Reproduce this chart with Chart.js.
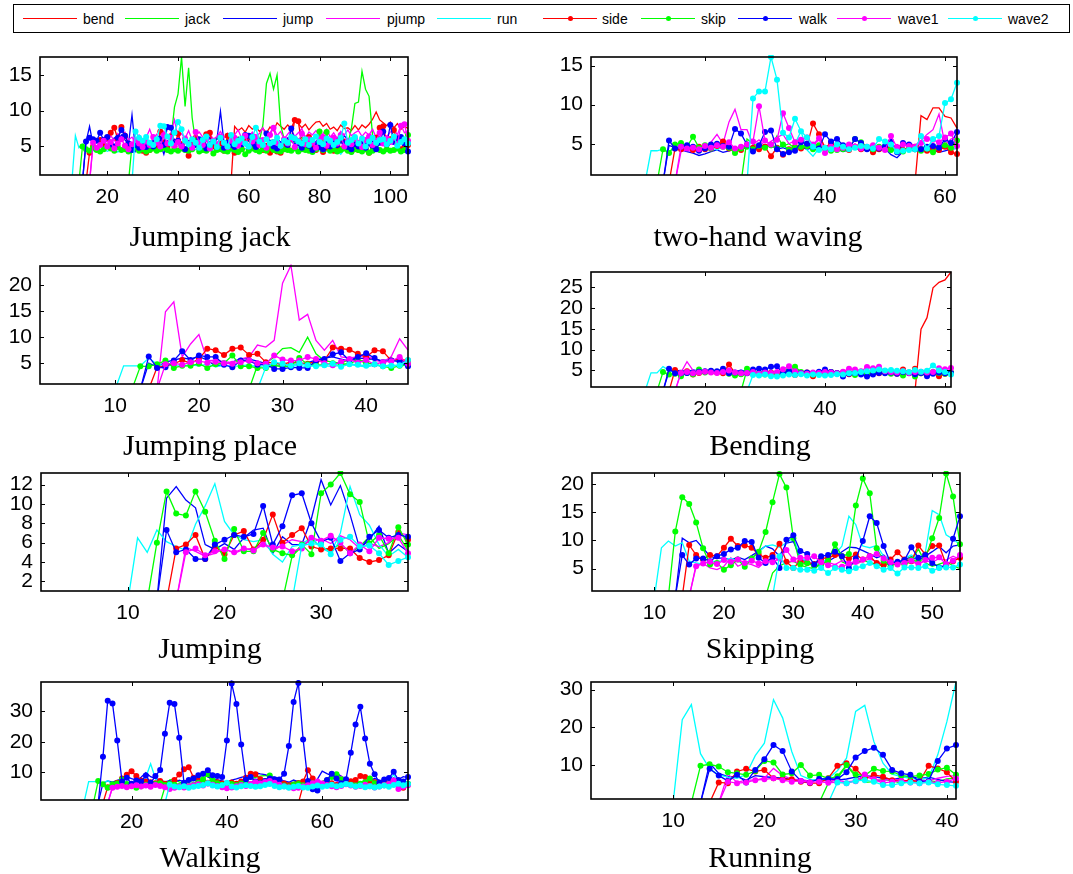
<!DOCTYPE html>
<html>
<head>
<meta charset="utf-8">
<script src="https://cdn.jsdelivr.net/npm/chart.js@4.4.0/dist/chart.umd.min.js"></script>
<style>
  body { margin: 0; width: 1073px; height: 874px; background: #fff; position: relative; overflow: hidden; }
  canvas { position: absolute; }
  .title { position: absolute; font-family: "Liberation Serif", serif; font-size: 30px; line-height: 30px; white-space: nowrap; transform: translateX(-50%); color: #000; }
  #legendBox { position: absolute; left: 13px; top: 4px; width: 1057px; height: 29px; border: 1.5px solid #000; box-sizing: border-box; }
  .lgLine { position: absolute; height: 1.3px; }
  .lgDot { position: absolute; width: 5px; height: 5px; border-radius: 50%; }
  .lgText { position: absolute; font-family: "Liberation Sans", Arial, sans-serif; font-size: 14px; line-height: 16px; color: #000; white-space: nowrap; }
</style>
</head>
<body>
<div id="legendBox"></div>
<script>
// series, in plotting order
const names = ['bend', 'jack', 'jump', 'pjump', 'run', 'side', 'skip', 'walk', 'wave1', 'wave2'];
// first frame index where each model output appears
const startIdx = [56, 27, 14, 16, 11, 15, 13, 14, 16, 28];

const panelTitles = ['Jumping jack', 'two-hand waving', 'Jumping place', 'Bending', 'Jumping', 'Skipping', 'Walking', 'Running'];
const panelLengths = [105, 62, 45, 61, 39, 54, 78, 41];
const panelYMax = [17.5, 16.1, 23.7, 28.7, 13.2, 22, 39.5, 32];
const panelXTicks = [[20, 40, 60, 80, 100], [20, 40, 60], [10, 20, 30, 40], [20, 40, 60], [10, 20, 30], [10, 20, 30, 40, 50], [20, 40, 60], [10, 20, 30, 40]];
const panelYTicks = [[5, 10, 15], [5, 10, 15], [5, 10, 15, 20], [5, 10, 15, 20, 25], [2, 4, 6, 8, 10, 12], [5, 10, 15, 20], [10, 20, 30], [10, 20, 30]];

// values per series, from its start index to the end of the clip
const jumpingJack = [
  [7.8,7.2,7.6,7.0,7.9, 7.4,7.8,7.1,7.5,6.9,7.7,7.2,8.3,7.8,7.4, 8.0,7.5,8.7,8.2,7.6,8.1,7.3,7.9,8.4,8.5,
   7.8,8.2,7.4,7.7,7.2,8.0,7.5,7.6,7.2,7.9, 7.3,8.0,7.6,8.1,8.8,9.8,8.7,8.3,7.9,8.4, 7.6,8.2,7.4,7.8,7.5],
  [5.2,5.8,5.4,6.0, 5.6,5.1,5.9,5.4,6.2,5.7,5.3,6.0,10.5,12.3, 17.5,10.6,16.0,9.0,5.5,6.1,5.4,5.9,5.2,5.8,
   6.2,5.6,5.1,6.0,5.5,5.8,6.3,5.4,6.0,5.7, 5.3,6.1,5.8,8.0,13.8,15.2,13.0,15.0,8.0,6.0, 5.6,6.2,5.4,5.9,6.3,5.5,6.0,5.7,5.2,6.1,
   5.8,5.4,6.0,5.6,6.2,5.5,5.9,5.3,7.5,11.0, 11.2,15.5,13.0,12.0,6.5,5.7,6.1,5.4,5.9,6.3, 5.6,6.0,5.5,6.2,5.8],
  [5.6,7.8,5.2,5.8,6.1,5.5,6.0, 5.4,6.2,5.8,6.6,5.9,5.3,9.4,4.4,5.6,5.0, 5.7,5.2,5.9,4.7,5.4,3.9,5.8,5.3,6.0,5.5,
   5.0,5.7,5.2,6.1,5.5,4.9,5.6,5.1,6.3,5.4, 6.0,9.9,5.5,5.0,5.8,5.3,6.2,5.6,5.1,5.9, 6.7,5.4,6.0,5.5,6.4,5.8,5.2,6.1,5.6,5.0,
   6.2,5.7,5.3,6.0,5.5,6.4,5.8,5.1,5.7,6.2, 5.4,6.0,5.6,5.2,6.1,5.5,6.5,5.9,5.3,6.0, 5.6,6.2,5.4,6.0,5.7,5.2,6.3,5.8,5.5,6.1,
   5.7,6.4,5.8,5.2,5.6],
  [5.2,5.9,5.4,6.2,5.6, 6.5,5.8,6.8,6.1,7.0,5.9,6.3,5.6,6.6,5.9, 6.2,7.4,6.0,6.7,5.8,7.1,6.4,6.9,8.7,6.2,
   6.8,6.1,7.2,5.9,6.5,7.0,6.3,5.8,6.7,6.0, 6.4,7.1,6.2,6.8,5.9,6.6,7.3,6.1,6.7,6.3, 7.0,6.4,6.8,7.6,6.2,6.9,7.7,6.5,7.1,6.0,
   6.7,7.3,6.4,6.9,7.5,6.2,7.0,6.6,7.2,6.4, 6.8,7.4,6.3,6.9,6.1,7.1,6.6,7.3,6.5,6.9, 7.2,6.4,7.0,6.6,7.4,6.2,7.1,6.8,6.4,7.0,
   7.5,6.6,8.0,6.9,7.2],
  [6.5,4.8,5.3,4.6,4.5,4.4,4.9,4.3,4.6,4.3, 4.5,4.7,4.2,4.6,4.4,4.9,4.5,4.7,4.3,4.6, 4.4,4.8,4.5,4.2,4.6,4.9,4.4,4.6,4.3,4.7,
   4.5,4.4,4.8,4.3,4.6,4.5,4.9,4.4,4.6,4.3, 4.7,4.5,4.4,4.8,4.3,4.6,4.5,4.4,4.7,4.3, 4.6,4.8,4.4,4.5,4.3,4.7,4.6,4.4,4.8,4.5,
   4.3,4.6,4.5,4.9,4.4,4.6,4.3,4.5,4.7,4.4, 4.6,4.3,4.5,4.8,4.4,3.9,4.6,4.5,4.3,4.7, 4.4,4.6,4.5,4.3,4.8,4.4,4.6,4.5,4.3,4.7,
   4.5,4.4,4.6,4.3,4.5],
  [4.1,5.0,4.7,5.9,5.2,6.2, 6.9,7.6,6.0,7.7,6.5,5.3,4.9,5.4,4.6,4.4, 4.1,4.5,5.2,4.8,7.1,5.5,4.9,6.4,5.0,6.8,
   5.3,4.6,3.7,5.2,6.2,4.8,5.5,6.7,6.9,5.0, 4.7,5.4,4.4,6.5,4.9,4.1,5.3,4.6,5.8,6.4, 5.0,4.7,5.5,4.5,5.1,4.1,5.6,4.3,4.1,5.2,
   4.7,6.0,8.7,8.5,5.2,4.6,6.3,5.0,4.5,5.4, 4.2,4.8,5.3,4.4,5.0,4.6,5.7,4.9,4.3,5.1, 4.5,5.2,4.6,4.1,5.0,6.2,7.6,7.8,5.3,6.0,
   7.3,5.5,4.6,4.9,5.2],
  [5.0,4.6,4.4,4.8,4.5,4.3,4.6,5.0, 4.7,4.4,4.9,4.5,4.6,4.3,4.5,4.8,4.4,4.6, 4.3,4.5,4.7,4.4,4.6,4.8,4.5,4.3,4.6,4.4,
   4.7,4.5,4.4,4.6,5.8,4.3,4.5,4.4,4.7,4.0, 4.5,4.6,4.4,4.3,4.7,4.5,4.2,4.6,3.9,4.4, 4.7,4.5,4.3,4.6,4.4,4.8,4.5,4.4,4.3,4.6,
   4.5,4.4,4.7,4.3,4.6,4.5,4.4,4.2,4.6,7.1, 4.5,7.0,4.4,4.6,4.3,4.5,4.7,4.4,4.2,4.6, 4.5,4.3,4.6,4.1,4.4,4.7,4.5,4.3,4.6,4.4,
   4.5,4.7,4.3,4.5,6.6],
  [5.7,6.2,6.0,5.8,6.9,5.9,6.3, 5.3,5.0,6.2,7.3,6.5,5.4,4.5,5.2,4.8,5.5, 4.9,5.3,5.0,5.6,6.1,5.2,7.7,7.6,5.4,5.8,
   5.1,4.6,5.5,4.9,5.2,6.0,5.4,4.7,5.3,5.6, 5.0,6.3,4.8,5.5,5.2,4.9,5.7,5.3,6.6,6.5, 5.4,4.9,5.8,5.2,6.8,5.5,5.0,4.7,5.3,5.9,
   5.2,7.5,6.0,5.4,4.8,5.6,5.1,4.5,5.3,4.9, 4.6,5.4,5.0,5.8,5.2,6.2,5.5,4.9,4.6,5.3, 5.0,5.7,4.8,5.4,5.1,4.6,5.5,7.1,5.3,8.0,
   5.6,6.1,6.3,5.4,4.3],
  [5.5,4.8,5.2,5.8,5.0, 5.6,4.7,5.4,6.0,5.1,4.6,5.3,5.9,5.4,4.9, 5.7,5.2,6.3,5.5,5.0,6.6,5.4,6.2,5.1,5.6,
   5.0,6.1,5.4,4.8,7.0,5.5,5.2,6.0,4.7,5.8, 5.3,6.4,5.5,4.9,5.8,6.2,5.1,5.6,6.5,5.0, 5.7,6.3,5.2,5.9,4.8,6.6,7.6,5.5,5.1,6.0,
   5.4,6.1,4.9,5.7,6.8,5.3,6.0,5.5,4.8,5.9, 6.3,5.1,5.6,6.2,5.4,6.6,5.0,5.8,5.3,6.1, 5.5,4.9,5.9,6.4,5.2,5.8,6.9,5.4,6.1,5.6,
   6.2,5.3,7.9,8.1,5.8],
  [7.1,6.2,5.8, 6.3,5.5,5.2,6.0,7.9,7.8,6.4,5.4,6.9,8.4, 7.4,5.8,5.3,6.0,5.5,4.8,5.9,6.4,5.2,5.7,
   4.9,6.2,5.5,5.0,6.6,5.3,5.8,6.1,5.4,5.0, 6.3,7.6,5.7,5.2,6.0,5.4,5.6,6.2,5.1,5.8, 5.5,6.3,6.1,5.7,5.4,6.0,5.2,5.9,6.4,5.6,
   5.3,6.1,5.8,5.2,5.6,6.2,8.2,5.5,5.9,6.3, 5.4,6.1,5.0,5.7,6.2,5.5,5.9,6.0,5.3,5.8, 6.4,5.1,5.6,6.0,5.4]
];

const twoHandWaving = [
  [8.6,8.1,9.6,9.6,8.5,8.3,7.0],
  [5.6,5.0,4.6,4.9, 4.5,6.0,4.7,5.0,4.4,4.8,4.6,5.1,4.7,4.4, 4.3,4.6,4.5,4.8,4.4,5.3,4.6,4.5,4.7,4.4,
   4.3,4.6,4.5,4.2,4.7,4.4,4.8,4.1,4.6,4.5, 4.9,5.2],
  [4.8,4.5,4.2,4.0,3.8,3.5,3.7, 4.0,4.2,3.9,4.1,4.3,4.2,4.6,4.4,4.7,4.5, 4.8,4.3,4.5,4.2,4.4,4.6,4.3,4.5,4.2,4.4,
   4.1,4.3,4.0,4.2,4.5,4.1,4.3,4.0,4.2,4.4, 3.6,3.2,4.0,4.3,4.1,4.2,4.0,4.2,3.9,4.1, 4.3,4.4],
  [4.0,4.2,3.9,4.4,4.6, 5.2,6.2,5.0,7.8,9.4,6.8,6.8,4.9,5.5,4.7, 5.3,5.8,6.2,5.0,5.4,5.6,5.1,4.8,5.5,4.6,
   4.9,4.4,4.7,4.5,5.0,4.3,4.6,4.8,4.4,4.7, 4.5,4.9,4.6,5.1,4.8,5.4,6.2,6.8,8.8,4.9, 5.6,5.9],
  [4.1,4.1,4.3,4.0,4.4,4.5,4.2,4.6,4.3,4.8, 4.5,4.2,4.7,4.4,4.1,4.5,4.8,4.3,4.6,4.4, 4.9,4.5,4.7,4.3,5.0,6.6,4.2,3.4,4.4,4.1,
   4.6,4.3,4.5,4.2,4.7,4.4,4.1,4.5,4.3,4.6, 4.2,4.5,4.0,4.4,4.3,4.7,4.5,4.2,4.4,4.6, 4.3,4.5],
  [4.4,4.3,4.5,4.2,4.6,4.3, 4.4,4.7,5.3,4.4,4.3,4.2,4.8,4.5,4.3,4.6, 3.4,4.5,3.6,4.3,4.6,4.4,4.7,7.6,6.2,4.5,
   5.1,4.6,4.4,4.2,4.6,4.3,4.5,3.9,4.3,4.5, 4.4,4.5,4.2,4.4,4.6,4.3,4.1,4.5,4.2,4.6, 3.9,3.7],
  [4.3,3.8,4.9,5.1,4.6,5.9,4.5,4.8, 4.4,4.9,4.6,4.5,3.8,4.4,4.6,4.3,4.7,4.5, 4.8,4.4,4.9,4.2,4.5,4.6,4.7,4.3,4.8,4.4,
   4.1,4.2,4.3,4.5,5.6,5.2,4.4,4.3,4.6,4.5, 4.2,4.4,4.0,4.5,4.3,4.1,4.4,3.9,4.6,4.8, 4.5,5.4],
  [5.4,4.4,4.6,4.8,4.6,4.1,4.4, 4.9,5.0,4.7,4.6,6.9,6.3,4.9,4.0,4.8,6.5, 6.7,4.3,3.7,3.9,4.1,5.2,5.0,4.6,4.4,6.2,
   5.3,5.6,4.8,4.4,5.6,5.1,4.3,4.5,4.4,4.7, 5.3,3.9,5.1,4.9,4.3,4.3,4.6,4.7,4.5,5.6, 5.1,6.5],
  [4.6,4.4,4.5,4.3,4.7, 4.5,4.8,4.6,5.2,4.4,4.6,4.9,5.3,9.8,5.4, 4.9,5.5,8.9,7.0,5.2,5.5,5.8,4.9,5.7,3.8,
   4.6,4.3,4.5,4.9,4.6,4.4,4.6,4.8,4.5,4.2, 6.0,4.5,4.9,4.7,4.6,5.1,5.6,5.5,5.2,5.8, 6.3,4.7],
  [10.8,11.7,11.7, 16.1,13.2,6.4,5.8,8.2,6.6,5.8,4.6,4.2,4.5, 4.3,4.9,4.6,4.3,4.5,4.7,4.6,4.4,5.6,5.3,
   4.9,4.0,4.1,4.2,4.3,6.0,4.4,5.6,6.0,10.2, 10.7,12.8]
];

const jumpingPlace = [
  [],
  [4.6,5.0,6.2,7.8,8.0,7.1,10.0,6.8,5.5,5.2,5.0,5.8,5.4,5.6,5.9,5.2,5.5,5.7,5.3],
  [5.0,4.3,5.2,5.6,6.0,5.8,6.3,5.6,4.4,4.8,5.2,5.9,5.8,5.4,4.9,4.6,4.5,4.7,4.8,5.1,5.6,6.0,6.2,5.8,5.4,5.9,6.0,5.7,5.5,5.8,5.6,5.2],
  [14.9,16.8,6.2,8.7,10.5,5.5,5.6,5.3,5.1,5.8,6.2,8.5,8.1,9.4,20.4,23.8,13.3,14.4,9.4,7.5,9.4,6.2,6.0,6.2,6.5,5.6,5.2,6.3,9.7,7.5],
  [4.5,4.5,4.5,6.0,4.8,4.5,4.6,4.4,4.7,4.5,4.8,4.3,4.6,4.4,4.5,4.7,4.3,4.6,4.5,4.8,4.4,4.6,4.3,4.7,4.5,4.4,4.6,4.8,4.5,4.3,4.6,4.4,4.7,4.5,4.6],
  [4.2,4.5,4.9,5.6,5.0,5.8,7.8,7.5,6.6,7.8,8.0,6.6,6.8,5.2,5.0,4.8,5.2,5.0,4.9,5.3,5.5,8.0,7.8,7.6,6.8,6.2,7.5,7.3,5.5,5.8,5.5],
  [4.4,4.4,4.8,5.5,4.1,4.5,4.5,4.9,4.1,4.8,5.0,6.5,4.4,4.4,4.1,4.1,4.6,4.3,4.5,6.0,4.8,4.6,4.7,5.0,4.8,4.9,5.6,5.0,4.8,4.4,4.1,4.5,4.8],
  [6.3,4.1,4.2,5.5,7.3,5.6,6.5,6.2,6.2,4.7,4.2,5.5,5.5,4.7,4.8,3.9,3.9,4.2,4.1,4.1,5.5,5.8,6.7,7.1,5.5,6.2,6.9,6.0,5.2,5.5,5.3,4.4],
  [4.8,5.0,4.7,5.2,5.4,5.1,5.3,5.0,4.9,5.2,5.5,5.0,4.9,6.5,5.7,5.5,5.5,6.2,5.8,5.0,4.6,5.3,5.8,5.1,5.6,4.8,5.2,5.4,6.2,4.9],
  [4.2,5.2,4.9,4.5,5.0,4.6,4.4,4.6,4.9,4.3,4.8,4.7,4.5,4.8,4.4,4.5,4.6,5.6]
];

const bending = [
  [14.9,17.7,24.9,26.2,26.8,28.7],
  [5.2,4.4,4.3,4.5, 4.4,4.6,4.5,4.3,4.7,4.4,4.2,4.5,4.6,4.3, 4.5,4.4,4.6,4.3,4.5,4.7,4.4,4.6,4.5,4.3,
   4.6,4.4,4.5,4.3,4.2,4.6,4.4,4.5,4.3,4.6, 4.4],
  [4.8,4.9,5.0,4.7,5.1,4.9,4.8, 5.0,4.8,5.1,4.9,4.8,5.0,4.7,4.6,4.5,4.7, 4.6,4.5,4.4,4.6,4.5,4.3,4.5,4.6,4.4,4.5,
   4.3,4.5,4.4,4.6,4.3,4.5,4.4,4.7,4.5,4.6, 4.4,4.5,4.3,4.6,4.4,4.5,4.2,4.4,4.3,4.5, 4.4],
  [4.5,7.1,5.0,4.8,4.6, 4.7,4.8,4.6,5.2,4.9,4.7,4.5,4.3,4.6,4.4, 4.7,4.5,4.8,5.0,4.6,4.4,4.3,4.5,4.4,4.6,
   4.5,4.7,4.4,4.6,4.5,4.8,4.6,4.7,4.5,4.6, 4.8,4.5,4.7,4.4,4.6,4.5,4.7,4.6,4.8,4.5, 4.6],
  [4.4,4.4,5.9,5.0,4.6,4.5,4.8,4.6,4.9,4.7, 4.8,4.5,4.9,4.7,4.6,4.8,4.5,4.4,4.3,4.6, 4.5,4.3,4.7,4.4,4.6,4.2,4.5,4.4,4.6,4.3,
   4.5,4.7,4.4,4.6,4.3,4.5,4.8,4.4,4.6,4.5, 4.3,4.6,4.4,4.7,4.5,4.3,4.6,4.8,4.4,4.5, 4.4],
  [5.1,4.3,4.8,4.0,4.4,4.7, 4.6,4.5,4.3,6.4,4.4,4.2,4.4,4.6,4.1,4.3, 4.5,4.2,4.4,4.6,3.9,4.3,4.5,3.6,4.2,4.4,
   4.6,4.3,4.5,4.1,4.4,4.6,4.2,4.5,4.3,4.7, 4.4,4.2,5.2,4.5,5.4,4.3,4.6,4.4,3.6,4.2, 4.4],
  [4.6,4.0,4.2,3.6,4.4,4.1,5.2,4.5, 4.8,4.6,4.9,4.2,3.8,4.1,5.4,4.6,4.3,4.0, 4.2,4.4,4.8,5.1,5.9,4.6,4.2,4.0,4.3,4.1,
   4.6,4.3,4.0,4.5,3.9,4.7,4.2,4.4,4.8,4.5, 4.2,4.6,3.8,4.4,3.5,4.3,4.1,4.6,4.4,4.2, 4.5],
  [5.4,4.3,4.3,4.4,4.4,4.7,4.8, 4.9,4.8,5.4,4.3,4.5,4.5,4.3,5.2,5.4,5.2, 5.9,6.0,4.3,4.8,4.6,4.4,4.5,4.3,4.7,5.2,
   4.6,4.4,3.5,4.2,4.4,4.0,3.5,4.0,4.4,4.3, 4.5,4.2,4.6,4.3,4.1,4.4,3.6,4.2,4.5,4.3, 4.4],
  [4.4,4.6,4.3,4.5,4.7, 4.5,4.4,4.6,5.0,4.5,4.3,4.4,4.6,4.2,4.5, 4.4,4.6,5.3,6.0,4.8,4.3,4.2,4.5,4.4,4.6,
   4.5,4.3,4.7,5.4,5.2,4.8,5.8,5.5,5.9,4.8, 4.6,4.5,4.8,4.4,4.6,4.7,4.5,4.6,5.5,5.3, 5.6],
  [3.9,3.8,4.0, 3.6,3.5,3.8,4.0,3.9,4.1,3.8,4.0,3.9,3.8, 3.9,4.1,4.0,4.3,4.4,4.6,4.8,5.0,5.2,5.0,
   5.1,4.9,4.8,4.6,5.1,4.7,4.9,6.2,5.0,4.6, 4.0]
];

const jumping = [
  [],
  [4.6,5.6,6.4,5.5,5.2,5.9,4.9,5.6,6.6,5.4,5.9,6.8,5.2],
  [10.6,11.8,10.4,9.6,5.8,5.3,5.9,5.3,6.5,7.3,7.5,4.9,6.6,5.8,5.8,8.5,12.5,9.9,11.9,8.9,5.4,6.3,7.7,4.9,5.8,5.1],
  [5.5,5.1,4.6,4.9,5.4,4.9,5.3,5.4,5.9,5.1,5.8,6.3,6.1,6.0,6.4,5.9,6.7,6.3,5.4,5.9,5.6,6.0,7.0,6.8],
  [6.5,5.0,7.3,6.1,5.6,5.2,7.9,9.8,12.1,8.2,6.8,6.3,6.1,6.3,4.8,4.0,5.6,5.8,6.6,5.4,5.0,7.0,11.8,8.9,7.8,5.8,4.6,5.3,4.5],
  [5.4,5.8,6.8,4.3,5.6,4.8,6.8,7.2,5.3,6.3,8.9,6.0,6.8,7.5,5.6,5.3,5.4,5.4,5.4,4.4,4.0,4.2,4.7,7.1,6.3],
  [6.0,11.3,9.0,8.8,11.3,9.2,6.2,4.3,7.4,5.1,5.1,7.0,5.3,4.9,4.7,5.8,4.8,11.1,12.0,13.2,11.0,10.2,5.9,6.8,4.9,7.6,5.8],
  [7.3,5.0,5.3,4.3,4.3,5.8,6.3,6.8,6.6,6.9,9.8,5.8,7.7,10.9,11.1,8.0,6.1,6.5,4.1,4.9,5.3,6.6,7.3,6.5,6.8,6.6],
  [5.0,5.4,4.7,5.1,5.3,5.0,5.4,5.2,5.8,5.5,5.6,5.1,5.4,6.5,6.2,6.7,6.0,4.9,5.8,5.1,6.5,6.4,6.5,4.9],
  [5.7,5.9,5.8,4.8,6.3,6.6,5.6,5.7,4.9,3.7,4.1,4.5]
];

const skipping = [
  [],
  [4.2,5.5,6.0,6.3,5.6,5.2,5.0,5.8,6.4,9.0,6.2,5.6,6.0,6.5,6.1,5.7,5.5,6.0,6.3,5.7,6.2,8.5,6.0,5.4,5.8,6.2,5.5,5.0],
  [10.4,9.6,10.0,8.6,7.2,6.8,6.9,6.5,7.0,6.6,7.3,8.1,9.0,8.5,7.2,9.5,9.8,6.9,6.1,5.8,6.4,6.3,7.0,8.0,8.8,8.7,8.2,7.6,6.9,7.4,
   6.3,6.0,6.6,7.1,6.5,7.2,8.0,8.9,7.8,9.0,9.2],
  [5.7,5.9,5.1,4.8,5.4,6.9,5.4,6.0,5.7,5.2,6.3,6.9,6.6,6.0,6.4,5.8,6.2,5.9,6.5,6.1,5.7,6.4,6.0,5.8,6.3,6.7,6.2,5.9,6.4,6.0,
   6.6,6.2,5.8,6.4,6.1,6.8,6.5,7.2,6.6],
  [8.7,9.9,9.0,9.6,6.3,6.0,5.8,6.4,6.2,6.5,6.8,6.3,6.0,6.6,8.0,9.0,9.2,8.8,9.6,10.5,7.0,6.2,5.6,6.0,6.8,7.5,9.0,14.3,12.8,9.0,
   8.7,9.1,7.2,6.5,6.0,6.8,7.4,6.6,7.8,15.3,14.6,11.0,10.2,9.3],
  [9.2,7.4,6.6,7.4,7.2,8.7,10.3,9.0,9.1,8.7,7.5,6.9,7.4,9.4,6.2,5.1,6.3,6.0,5.8,6.8,6.9,7.4,7.2,6.8,7.5,6.6,7.2,6.0,5.6,6.6,
   7.9,6.6,6.3,9.1,7.5,9.0,9.1,5.7,6.3,6.9],
  [11.6,17.7,16.5,13.2,8.6,5.7,6.0,4.8,5.6,6.6,5.3,6.8,8.0,11.5,16.8,21.8,19.4,10.4,5.7,6.0,5.4,5.7,6.4,9.3,7.2,7.6,16.2,21.0,18.4,8.6,
   6.4,5.4,6.0,5.7,6.6,6.2,6.9,10.4,14.0,21.9,17.8,9.3],
  [7.4,5.7,6.8,6.8,6.3,7.2,7.6,8.4,8.7,9.9,9.7,6.9,6.0,7.0,5.1,10.1,10.9,8.1,7.6,5.7,7.2,7.4,8.0,7.2,5.1,6.8,9.9,14.3,13.1,9.0,
   6.0,6.2,6.5,8.8,6.9,7.4,6.0,5.2,5.6,10.3,14.3],
  [5.4,5.9,6.2,5.8,6.5,6.2,6.6,6.0,6.4,5.9,6.3,6.1,6.8,8.3,6.6,6.9,6.9,7.2,6.1,5.6,5.3,5.3,5.9,6.2,6.6,7.2,7.6,6.8,6.1,5.7,
   6.0,6.4,5.8,6.5,6.9,7.0,5.8,6.4,7.4],
  [7.2,5.1,5.1,4.8,4.8,4.6,5.1,4.2,5.1,4.8,4.5,5.1,5.4,6.0,5.4,4.8,5.1,4.1,5.2,5.2,5.1,5.4,4.6,5.1,5.2,5.2,5.7]
];

const walking = [
  [5.8,6.2,5.6,6.0,5.4,5.9,6.3,5.7,6.1,5.5,5.8,6.2,5.6,6.0,5.3,5.7,6.1,5.5,5.9,6.4,5.8,6.2,5.6],
  [5.2,7.6,7.8,6.9,6.3,6.8,7.5,8.2,9.2,8.6, 7.4,6.8,6.5,7.0,6.6,6.3,7.1,7.5,7.9,8.4, 8.8,9.0,8.6,7.8,7.2,6.7,6.4,6.8,7.3,7.0,
   6.5,6.2,6.6,7.1,7.8,8.5,9.0,8.2,7.4,6.9, 6.5,6.8,7.2,7.6,7.1,6.7,6.4,6.9,7.3,6.8, 6.5,6.9],
  [6.5,7.2,6.8,7.4,7.9,8.6,8.0,7.5,8.4,9.9, 8.6,8.0,7.6,6.9,7.3,6.8,7.5,7.0,7.8,8.2, 8.9,9.3,8.5,8.0,7.6,7.2,6.8,7.5,7.9,8.4,
   8.8,9.2,9.9,9.5,9.3,8.8,8.4,7.9,7.2,6.8, 7.5,6.9,6.4,5.8,5.5,7.8,10.4,9.6,8.9,9.8, 8.7,7.9,7.4,7.0,6.6,6.9,7.4,8.0,7.5,7.1,
   7.6,8.2,7.7,8.6,8.3],
  [5.3,5.6,5.2,5.8,6.0,5.5,5.9,6.3,5.7,6.1, 5.6,6.0,5.4,5.8,6.2,5.7,6.1,5.5,5.9,6.4, 6.8,6.2,5.8,6.3,6.7,6.1,5.7,6.0,6.5,6.9,
   7.3,6.7,6.2,5.8,6.4,6.0,5.6,5.9,6.3,5.8, 6.2,6.6,7.0,7.5,6.9,6.4,6.0,6.5,8.8,7.2, 6.6,6.1,6.5,6.9,6.4,6.0,6.3,6.7,7.1,7.6,
   7.0,6.6,6.2],
  [7.0,7.0,7.1,6.5,7.3,6.2,5.8,6.0,6.4,6.1, 6.6,7.2,8.4,12.8,8.0,6.4,6.0,5.6,5.9,6.2, 5.7,6.0,5.5,5.8,6.1,5.6,5.9,6.3,5.7,5.4,
   5.8,6.0,5.6,5.9,6.2,5.7,6.0,5.5,5.8,6.1, 5.6,5.9,5.4,5.7,6.0,5.5,5.8,6.2,5.7,5.5, 5.9,6.3,5.8,6.1,5.6,5.9,6.2,5.7,6.0,5.6,
   5.9,6.3,6.8,7.5,9.2,7.0,6.4,6.0],
  [5.2,5.5,6.6,8.0,9.2,10.4,8.8,7.4,7.0,6.8, 6.5,7.2,6.3,6.0,7.5,9.3,11.0,11.7,8.3,7.4, 7.0,6.6,7.2,6.8,6.4,6.0,6.7,6.3,7.0,8.3,
   9.6,9.4,7.8,7.0,6.5,6.1,6.8,6.4,5.8,6.0, 6.5,7.0,10.7,8.0,6.6,6.2,7.0,6.5,5.9,6.3, 6.8,7.1,7.5,8.8,8.5,7.2,6.8,6.3,6.9,6.5,
   7.0,6.4,5.0,6.1],
  [7.2,6.1,5.0,6.1,6.4,7.7,6.2,5.8,5.0,5.5, 6.0,5.7,6.2,6.5,5.9,6.3,6.0,5.6,5.3,5.6, 6.0,6.6,7.8,9.4,7.6,6.5,6.0,5.7,6.2,5.9,
   6.4,6.8,6.1,5.8,6.5,7.2,9.0,7.0,6.1,5.7, 5.4,5.9,6.2,5.8,6.0,6.5,6.2,5.8,7.4,8.5, 9.4,7.8,6.4,6.0,5.7,6.3,6.8,8.0,6.5,6.0,
   5.8,6.2,6.6,6.1,5.8,6.3],
  [15.1,33.4,32.5,20.4,7.0,8.3,6.3,7.4,7.0,9.0, 6.6,8.8,10.8,22.6,32.7,32.3,21.3,6.6,7.5,8.0, 9.1,9.6,10.7,9.1,8.8,8.5,20.4,39.0,32.3,19.1,
   7.7,8.5,7.0,6.5,7.2,8.0,7.8,7.7,9.6,18.6, 33.0,39.2,20.7,7.2,4.5,4.1,6.1,7.5,9.6,8.0, 6.5,7.8,16.4,25.6,31.4,21.1,12.8,9.4,6.6,7.7,
   8.2,10.2,7.5,7.0,8.5],
  [5.0,5.3,5.6,5.2,5.5,5.8,5.4,5.7,5.3,5.9, 5.6,5.2,4.6,5.0,5.4,5.1,5.5,5.8,6.1,5.7, 6.4,6.0,5.6,5.2,4.8,5.1,5.5,5.9,5.6,6.2,
   6.8,6.4,6.9,7.2,6.6,6.0,5.5,5.2,4.8,5.0, 5.4,5.8,6.5,7.0,6.4,5.9,5.5,5.2,5.6,6.1, 5.7,5.3,5.6,6.0,5.5,5.1,5.4,5.8,6.2,7.4,
   4.6,5.3,5.8],
  [6.0,5.4,5.2,5.5,5.0,5.3,5.6,5.9,6.5,5.7, 5.4,5.8,6.6,5.4,5.1,5.5,5.8,5.6,5.3,5.5, 5.9,6.2,5.6,5.2,5.4,5.0,5.3,5.6,5.1,5.0,
   5.4,5.7,5.3,5.6,6.0,5.5,5.8,6.2,5.9,5.4, 5.7,5.2,5.5,5.1,5.4,5.7,5.3,5.9,6.3,5.8, 6.2]
];

const running = [
  [],
  [5.2,6.5,9.8,7.0,5.4,5.6,6.2,5.8,5.2,5.6,6.0,5.8,5.6,6.3,6.6],
  [10.5,7.8,6.9,6.9,6.0,7.2,6.9,6.7,6.5,6.2,6.0,5.8,6.2,6.4,6.0,6.3,6.8,7.2,6.9,6.5,6.2,6.6,7.0,6.4,6.8,6.2,5.6,5.4],
  [7.6,5.4,6.0,6.0,6.5,9.1,7.2,6.3,6.0,5.8,6.1,5.7,6.0,5.5,5.8,6.9,6.2,5.9,6.3,6.0,5.7,6.1,5.8,6.5,7.0,7.2],
  [22.0,26.0,13.0,9.0,7.4,6.8,6.5,7.5,12.5,15.8,27.3,22.5,13.6,7.2,6.2,6.0,6.4,8.5,11.8,24.2,25.8,16.2,10.5,7.6,6.9,6.5,6.2,6.6,12.7,21.5,32.0],
  [5.4,5.2,8.3,9.0,8.3,8.7,6.5,6.3,6.2,5.6,5.2,5.2,6.5,9.8,10.5,9.0,6.5,7.4,6.9,6.0,5.8,5.9,5.6,9.8,9.1,8.1,5.6],
  [9.8,10.2,9.6,8.1,7.8,7.4,8.4,11.1,10.7,7.5,7.8,10.0,7.2,7.4,6.4,7.0,10.0,7.5,7.2,9.0,8.4,8.3,7.2,7.0,7.2,7.6,8.8,9.3,7.4],
  [9.0,7.2,5.8,7.4,5.4,8.7,11.5,15.3,13.7,8.3,5.8,5.4,6.3,6.3,6.3,8.1,12.0,13.7,14.6,12.7,8.7,7.8,7.4,5.6,5.8,11.1,14.4,15.3],
  [5.6,5.2,5.4,6.0,6.2,6.5,6.0,5.6,5.8,5.4,5.6,5.3,5.5,5.2,5.7,7.5,6.2,5.2,5.6,5.8,5.4,5.2,5.5,5.3,5.6,6.4],
  [5.4,5.2,5.8,6.0,5.6,4.7,4.7,5.2,5.4,5.2,5.4,4.9,4.7,4.5]
];

const panelData = [jumpingJack, twoHandWaving, jumpingPlace, bending, jumping, skipping, walking, running];

// styling and layout
const colors = ['#ff0000', '#00ff00', '#0000ff', '#ff00ff', '#00ffff', '#ff0000', '#00ff00', '#0000ff', '#ff00ff', '#00ffff'];
const hasMarker = [false, false, false, false, false, true, true, true, true, true];
// axis box of each panel: left, top, right, bottom
const panelBoxes = [
  [40, 57, 408, 175], [591, 57, 957, 175],
  [40, 266, 408, 384], [591, 272, 951, 387],
  [41, 473, 408, 591], [592, 473, 960, 591],
  [41, 682, 408, 800], [591, 682, 956, 799]
];
const titleCenters = [210, 758, 210, 760, 210, 760, 210, 760];
const titleBaselines = [246, 246, 455, 455, 658, 658, 867, 867];
const legendLineX = [23, 125, 223, 326, 437, 543, 641, 738, 837, 948];
const legendTextX = [83, 185, 283, 387, 497, 602, 701, 799, 898, 1008];

const tickFont = { family: '"Liberation Sans", Arial, sans-serif', size: 21 };
const padL = 60, padT = 12, padR = 30, padB = 45;

const boxPlugin = {
    id: 'axisBox',
    afterDatasetsDraw(chart) {
        const { ctx, chartArea: a, scales } = chart;
        ctx.save();
        ctx.strokeStyle = '#000';
        ctx.lineWidth = 1;
        ctx.beginPath();
        scales.x.ticks.forEach(t => {
            const px = Math.round(scales.x.getPixelForValue(t.value)) + 0.5;
            ctx.moveTo(px, a.bottom); ctx.lineTo(px, a.bottom - 4);
            ctx.moveTo(px, a.top); ctx.lineTo(px, a.top + 4);
        });
        scales.y.ticks.forEach(t => {
            const py = Math.round(scales.y.getPixelForValue(t.value)) + 0.5;
            ctx.moveTo(a.left, py); ctx.lineTo(a.left + 4, py);
            ctx.moveTo(a.right, py); ctx.lineTo(a.right - 4, py);
        });
        ctx.stroke();
        ctx.lineWidth = 1.6;
        ctx.strokeRect(a.left, a.top, a.right - a.left, a.bottom - a.top);
        ctx.restore();
    }
};

function buildDatasets(vals, n) {
    return names.map((name, i) => {
        const pts = [];
        for (let x = 1; x <= n; x++) {
            const k = x - startIdx[i];
            const v = k < 0 ? 0 : vals[i][k];
            if (v !== undefined) pts.push({ x: x, y: v });
        }
        return {
            label: name,
            data: pts,
            borderColor: colors[i],
            backgroundColor: colors[i],
            borderWidth: 1.3,
            pointRadius: hasMarker[i] ? 3 : 0,
            pointBorderWidth: 0,
            pointBackgroundColor: colors[i],
            tension: 0,
            clip: { left: 0, top: 2, right: 4, bottom: 0 },
            order: names.length - i
        };
    });
}

function renderPanel(p) {
    const [L, T, R, B] = panelBoxes[p];
    const canvas = document.createElement('canvas');
    canvas.width = R - L + padL + padR;
    canvas.height = B - T + padT + padB;
    canvas.style.left = (L - padL) + 'px';
    canvas.style.top = (T - padT) + 'px';
    document.body.appendChild(canvas);

    const xt = panelXTicks[p], yt = panelYTicks[p];
    new Chart(canvas.getContext('2d'), {
        type: 'line',
        data: { datasets: buildDatasets(panelData[p], panelLengths[p]) },
        options: {
            responsive: false,
            animation: false,
            devicePixelRatio: 1,
            events: [],
            layout: { padding: { left: 0, top: padT, right: padR, bottom: 0 } },
            plugins: { legend: { display: false }, tooltip: { enabled: false } },
            scales: {
                x: {
                    type: 'linear',
                    min: 1,
                    max: panelLengths[p],
                    grid: { display: false, drawTicks: false },
                    border: { display: false },
                    ticks: { font: tickFont, color: '#000', padding: 10, maxRotation: 0, autoSkip: false },
                    afterBuildTicks: s => { s.ticks = xt.map(v => ({ value: v })); },
                    afterFit: s => {
                        s.height = padB;
                        s.paddingLeft = 0; s.paddingRight = 0;
                    }
                },
                y: {
                    type: 'linear',
                    min: 1,
                    max: panelYMax[p],
                    grid: { display: false, drawTicks: false },
                    border: { display: false },
                    ticks: { font: tickFont, color: '#000', padding: 8, autoSkip: false },
                    afterBuildTicks: s => { s.ticks = yt.map(v => ({ value: v })); },
                    afterFit: s => {
                        s.width = padL;
                        s.paddingTop = 0; s.paddingBottom = 0;
                    }
                }
            }
        },
        plugins: [boxPlugin]
    });

    const title = document.createElement('div');
    title.className = 'title';
    title.textContent = panelTitles[p];
    title.style.left = titleCenters[p] + 'px';
    title.style.top = (titleBaselines[p] - 25) + 'px';
    document.body.appendChild(title);
}

function renderLegend() {
    names.forEach((name, i) => {
        const line = document.createElement('div');
        line.className = 'lgLine';
        line.style.left = legendLineX[i] + 'px';
        line.style.top = '18px';
        line.style.width = '54px';
        line.style.background = colors[i];
        document.body.appendChild(line);
        if (hasMarker[i]) {
            const dot = document.createElement('div');
            dot.className = 'lgDot';
            dot.style.left = (legendLineX[i] + 25) + 'px';
            dot.style.top = '16px';
            dot.style.background = colors[i];
            document.body.appendChild(dot);
        }
        const text = document.createElement('div');
        text.className = 'lgText';
        text.textContent = name;
        text.style.left = legendTextX[i] + 'px';
        text.style.top = '11px';
        document.body.appendChild(text);
    });
}

renderLegend();
for (let p = 0; p < panelTitles.length; p++) {
    renderPanel(p);
}
</script>
</body>
</html>
